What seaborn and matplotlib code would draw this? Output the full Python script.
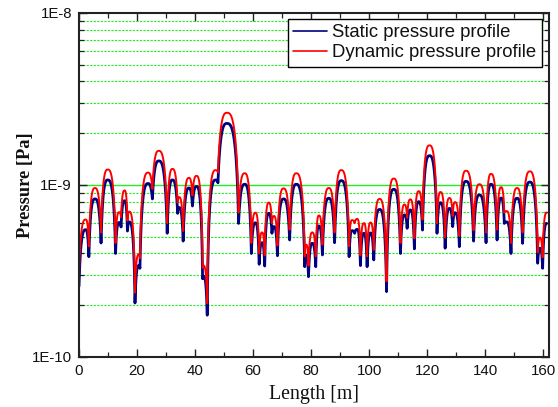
import numpy as np
import pandas as pd

import matplotlib
matplotlib.use('Agg')

import matplotlib.pyplot as plt
from matplotlib.ticker import FixedLocator, FixedFormatter, NullFormatter, MultipleLocator

import seaborn as sns

# knots along the beam line: cusp, peak, cusp, peak, ... (last one is the open end)
knot_x = [0.0, 2.3, 3.4, 5.5, 7.6, 9.9, 12.6, 13.8, 14.5, 15.7, 16.7, 17.3, 19.3, 20.6, 21.0,
          23.8, 25.3, 27.5, 30.4, 32.2, 34.0, 34.5, 35.9, 37.9, 39.1, 40.5, 42.6, 42.9, 44.2,
          47.1, 47.9, 51.0, 55.0, 57.1, 59.4, 60.8, 62.1, 63.1, 64.0, 65.4, 66.5, 67.2, 68.4,
          70.5, 72.6, 74.9, 77.8, 78.3, 79.1, 80.4, 81.6, 82.7, 83.9, 86.1, 88.1, 90.4, 93.1,
          94.1, 95.0, 95.9, 97.0, 98.2, 99.3, 100.5, 101.6, 103.6, 106.0, 108.5, 110.8, 112.2,
          113.1, 114.2, 115.6, 117.1, 118.4, 120.8, 123.4, 124.6, 126.2, 127.7, 128.8, 129.6,
          131.1, 133.4, 136.0, 138.0, 140.3, 142.0, 144.1, 145.5, 146.6, 147.4, 148.9, 151.0,
          152.9, 155.4, 158.1, 158.9, 159.8, 161.2]

static_knots = [2.58e-10, 5.5e-10, 3.83e-10, 8.3e-10, 4.6e-10, 1.07e-9, 4.0e-10, 6.05e-10, 5.7e-10,
                8.1e-10, 5.4e-10, 6.1e-10, 2.06e-10, 3.4e-10, 3.28e-10, 1.02e-9, 8.3e-10, 1.38e-9,
                5.24e-10, 1.07e-9, 6.84e-10, 7.4e-10, 4.72e-10, 9.6e-10, 7.55e-10, 9.8e-10, 2.85e-10,
                2.95e-10, 1.75e-10, 1.07e-9, 1.03e-9, 2.28e-9, 5.98e-10, 1.01e-9, 4.0e-10, 6.03e-10,
                3.46e-10, 4.62e-10, 3.38e-10, 6.84e-10, 5.24e-10, 5.73e-10, 3.88e-10, 8.3e-10,
                4.79e-10, 1.01e-9, 3.35e-10, 3.92e-10, 2.93e-10, 4.58e-10, 3.35e-10, 5.78e-10,
                3.92e-10, 8.37e-10, 4.62e-10, 1.06e-9, 3.83e-10, 5.43e-10, 5.24e-10, 5.52e-10,
                3.4e-10, 5.24e-10, 3.35e-10, 5.26e-10, 3.67e-10, 7.21e-10, 2.4e-10, 9.44e-10,
                4.0e-10, 6.7e-10, 5.6e-10, 7.16e-10, 4.25e-10, 8.0e-10, 5.47e-10, 1.48e-9, 5.24e-10,
                7.89e-10, 4.29e-10, 7.31e-10, 5.73e-10, 6.9e-10, 4.38e-10, 1.05e-9, 4.72e-10,
                8.75e-10, 4.62e-10, 1.01e-9, 4.79e-10, 8.4e-10, 5.98e-10, 6.1e-10, 4.0e-10, 8.37e-10,
                4.58e-10, 1.04e-9, 3.51e-10, 4.29e-10, 3.28e-10, 5.98e-10]

dynamic_knots = [3.05e-10, 6.3e-10, 4.4e-10, 9.6e-10, 5.3e-10, 1.23e-9, 4.6e-10, 6.95e-10, 6.5e-10,
                 9.3e-10, 6.2e-10, 7.0e-10, 2.37e-10, 3.95e-10, 3.75e-10, 1.18e-9, 9.5e-10, 1.58e-9,
                 6.0e-10, 1.24e-9, 7.9e-10, 8.5e-10, 5.4e-10, 1.1e-9, 8.7e-10, 1.13e-9, 3.3e-10,
                 3.4e-10, 2.05e-10, 1.22e-9, 1.18e-9, 2.63e-9, 6.9e-10, 1.17e-9, 4.6e-10, 6.9e-10,
                 4.0e-10, 5.3e-10, 3.9e-10, 7.9e-10, 6.0e-10, 6.6e-10, 4.45e-10, 9.55e-10,
                 5.5e-10, 1.17e-9, 3.85e-10, 4.5e-10, 3.4e-10, 5.3e-10, 3.85e-10, 6.65e-10,
                 4.5e-10, 9.6e-10, 5.3e-10, 1.22e-9, 4.4e-10, 6.25e-10, 6.0e-10, 6.35e-10,
                 3.9e-10, 6.0e-10, 3.85e-10, 6.05e-10, 4.2e-10, 8.3e-10, 2.75e-10, 1.09e-9,
                 4.6e-10, 7.7e-10, 6.45e-10, 8.25e-10, 4.9e-10, 9.2e-10, 6.3e-10, 1.7e-9, 6.0e-10,
                 9.1e-10, 4.95e-10, 8.4e-10, 6.6e-10, 7.95e-10, 5.05e-10, 1.21e-9, 5.45e-10,
                 1.01e-9, 5.3e-10, 1.16e-9, 5.5e-10, 9.7e-10, 6.9e-10, 7.05e-10, 4.6e-10, 9.6e-10,
                 5.3e-10, 1.2e-9, 4.05e-10, 4.95e-10, 3.8e-10, 6.9e-10]

labels = ['Static pressure profile', 'Dynamic pressure profile']
colors = ['#000080', '#ff0000']


def arcs(xk, vk, n=30, p=2.8):
    # rounded pressure bump between two pumps (cusps), peak at the odd knots
    xs, vs = [xk[0]], [vk[0]]
    for k in range(1, len(xk), 2):
        xl, xp = xk[k - 1], xk[k]
        t = np.linspace(0, 1, n)[1:]
        xs += list(xl + (xp - xl) * t)
        vs += list(vk[k] - (vk[k] - vk[k - 1]) * (1 - t) ** p)
        if k + 1 < len(xk):
            xr = xk[k + 1]
            xs += list(xp + (xr - xp) * t)
            vs += list(vk[k] - (vk[k] - vk[k + 1]) * t ** p)
    return xs, vs


frames = []
for name, vals in zip(labels, [static_knots, dynamic_knots]):
    xs, vs = arcs(knot_x, vals)
    frames.append(pd.DataFrame({'Length': xs, 'Pressure': vs, 'profile': name}))
df = pd.concat(frames, ignore_index=True)

sns.set_style('ticks')
plt.rcParams['font.family'] = ['Liberation Sans', 'DejaVu Sans']

fig = plt.figure(figsize=(5.58, 4.07), dpi=100)
ax = fig.add_axes([79 / 558, 1 - 357 / 407, 470 / 558, 344 / 407])

sns.lineplot(data=df, x='Length', y='Pressure', hue='profile', palette=dict(zip(labels, colors)),
             estimator=None, sort=False, ax=ax, legend=False)
for line, lw in zip(ax.lines, [2.0, 1.4]):
    line.set_linewidth(lw)

ax.set_yscale('log')
ax.set_ylim(1e-10, 1e-8)
ax.set_xlim(0, 162)

ax.yaxis.set_major_locator(FixedLocator([1e-10, 1e-9, 1e-8]))
ax.yaxis.set_major_formatter(FixedFormatter(['1E-10', '1E-9', '1E-8']))
minor_y = [m * 10.0 ** e for e in (-10, -9) for m in range(2, 10)]
ax.yaxis.set_minor_locator(FixedLocator(minor_y))
ax.yaxis.set_minor_formatter(NullFormatter())
ax.xaxis.set_major_locator(MultipleLocator(20))
ax.xaxis.set_minor_locator(MultipleLocator(10))

ax.set_axisbelow(True)
ax.grid(which='minor', axis='y', color='#22ee22', linestyle=(0, (2, 1.2)), linewidth=0.8)
ax.axhline(1e-9, color='#22ee22', linewidth=1.0, zorder=0.5)

ax.tick_params(which='both', direction='in', top=True, right=True, colors='#222222',
               labelsize=10.8, labelcolor='#111111', pad=5)
ax.tick_params(which='major', length=6, width=1.0)
ax.tick_params(which='minor', length=3.5, width=0.9)
for s in ax.spines.values():
    s.set_linewidth(1.5)
    s.set_color('#222222')

ax.set_xlabel('Length [m]', family=['Liberation Serif'], fontsize=14.3, color='#111111')
ax.set_ylabel('Pressure [Pa]', family=['Liberation Serif'], fontsize=13.2, fontweight='bold',
              color='#111111')
ax.xaxis.set_label_coords(0.5, -0.08)
ax.yaxis.set_label_coords(-0.095, 0.5)

handles = [plt.Line2D([], [], color=c, linewidth=1.2) for c in colors]
leg = ax.legend(handles, labels, loc='upper right', bbox_to_anchor=(0.985, 0.983),
                borderaxespad=0, fontsize=13.3, frameon=True, fancybox=False, framealpha=1,
                edgecolor='black', handlelength=1.8, handletextpad=0.3, borderpad=0.3,
                labelspacing=0.15)
leg.get_frame().set_linewidth(1.0)
for t in leg.get_texts():
    t.set_color('#111111')

plt.savefig('out.png', dpi=100)
plt.close()
